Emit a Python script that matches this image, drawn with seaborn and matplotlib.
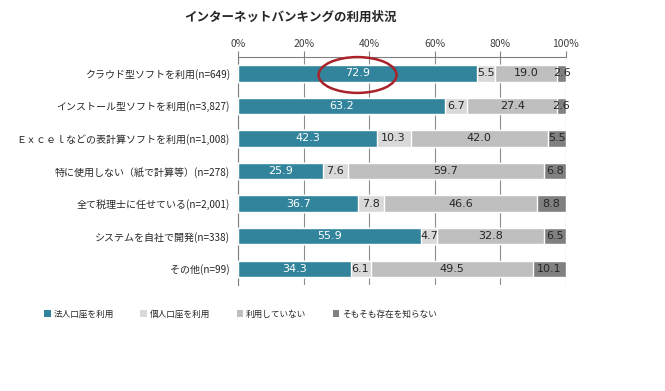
import numpy as np
import pandas as pd
import matplotlib
matplotlib.use('Agg')
import matplotlib.pyplot as plt
from matplotlib.patches import Ellipse, Patch
import seaborn as sns

# データ
categories = ['クラウド型ソフトを利用(n=649)',
              'インストール型ソフトを利用(n=3,827)',
              'Ｅｘｃｅｌなどの表計算ソフトを利用(n=1,008)',
              '特に使用しない（紙で計算等）(n=278)',
              '全て税理士に任せている(n=2,001)',
              'システムを自社で開発(n=338)',
              'その他(n=99)']
series_names = ['法人口座を利用', '個人口座を利用', '利用していない', 'そもそも存在を知らない']
corp = [72.9, 63.2, 42.3, 25.9, 36.7, 55.9, 34.3]
personal = [5.5, 6.7, 10.3, 7.6, 7.8, 4.7, 6.1]
not_used = [19.0, 27.4, 42.0, 59.7, 46.6, 32.8, 49.5]
unknown = [2.6, 2.6, 5.5, 6.8, 8.8, 6.5, 10.1]
xticks = [0, 20, 40, 60, 80, 100]
xtick_labels = ['0%', '20%', '40%', '60%', '80%', '100%']

colors = ['#31849B', '#D9D9D9', '#BFBFBF', '#808080']
text_colors = ['white', '#262626', '#262626', '#262626']

sns.set_style('white')
plt.rcParams['font.family'] = ['Noto Sans CJK JP', 'DejaVu Sans']

df = pd.DataFrame({'cat': categories, series_names[0]: corp, series_names[1]: personal,
                   series_names[2]: not_used, series_names[3]: unknown})
vals = df[series_names].to_numpy()
cum = np.cumsum(vals, axis=1)

fig = plt.figure(figsize=(6.65, 3.91), dpi=100)
ax = fig.add_axes([0.358, 0.271, 0.493, 0.583])

# 積み上げ棒（右端から順に重ねる）
for k in range(3, -1, -1):
    sns.barplot(x=cum[:, k], y=df['cat'], color=colors[k], orient='h',
                width=0.5, ax=ax, saturation=1, zorder=3)

# 数値ラベル
for i in range(len(categories)):
    start = 0
    for k in range(4):
        v = vals[i, k]
        ax.text(start + v / 2, i, f'{v:.1f}', ha='center', va='center',
                fontsize=8, color=text_colors[k], zorder=5,
                family=['Verdana', 'DejaVu Sans'])
        start += v

# 強調の楕円
ax.add_patch(Ellipse((corp[0] / 2, 0.05), width=23.8, height=1.1, fill=False,
                     edgecolor='#A8232A', linewidth=1.8, zorder=6, clip_on=False))

ax.set_xlim(0, 100)
ax.set_ylim(len(categories) - 0.5, -0.5)
ax.xaxis.tick_top()
ax.set_xticks(xticks)
ax.set_xticklabels(xtick_labels, fontsize=7.5, color='#404040')
ax.tick_params(axis='x', length=4, color='#808080', width=0.8, pad=2)
ax.grid(axis='x', color='#8C8C8C', linewidth=0.8, zorder=0)
ax.set_xlabel('')
ax.set_ylabel('')

ax.set_yticks(range(len(categories)))
ax.set_yticklabels(categories, fontsize=7.2, color='#262626')
ax.tick_params(axis='y', length=0, pad=6)
ax.set_yticks(np.arange(-0.5, len(categories), 1), minor=True)
ax.tick_params(axis='y', which='minor', length=4, color='#808080', width=0.8)

for s in ['right', 'bottom']:
    ax.spines[s].set_visible(False)
for s in ['top', 'left']:
    ax.spines[s].set_color('#808080')
    ax.spines[s].set_linewidth(0.8)

fig.text(0.437, 0.955, 'インターネットバンキングの利用状況', ha='center', va='center',
         fontsize=9, fontweight='bold', color='#262626')

handles = [Patch(facecolor=c, edgecolor='none') for c in colors]
fig.legend(handles, series_names, loc='center left', bbox_to_anchor=(0.055, 0.197),
           ncol=4, frameon=False, fontsize=6.2, handlelength=0.75, handleheight=0.75,
           handletextpad=0.3, columnspacing=3.1)

fig.savefig('out.png', dpi=100)
